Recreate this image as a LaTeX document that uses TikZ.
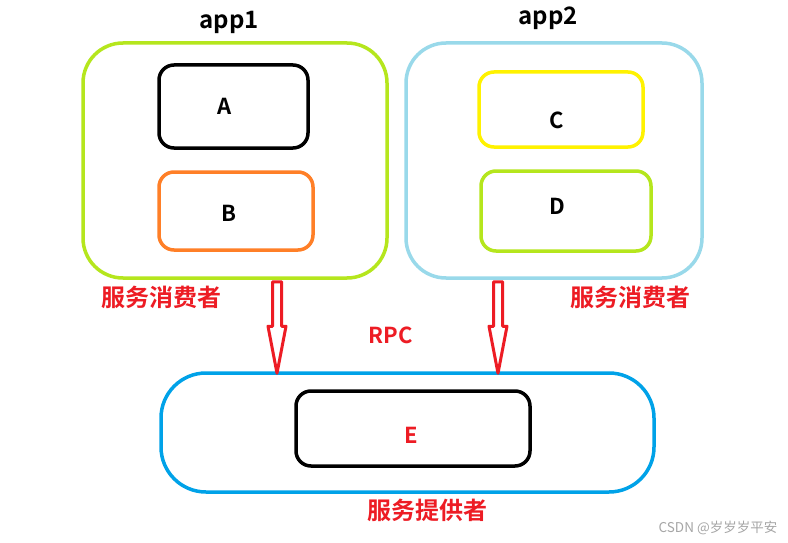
\documentclass[tikz,border=0pt]{standalone}
\usepackage{fontspec}
\setmainfont{Noto Sans CJK SC}[BoldFont={Noto Sans CJK SC Bold}]
\usetikzlibrary{calc}
\definecolor{lime}{HTML}{B5E61D}
\definecolor{lblue}{HTML}{99D9EA}
\definecolor{dblue}{HTML}{00A2E8}
\definecolor{orng}{HTML}{FF7F27}
\definecolor{yel}{HTML}{FFF200}
\definecolor{rd}{HTML}{ED1C24}
\tikzset{
  box/.style={draw, line width=3.5pt, rounded corners=#1, inner sep=0pt},
  lbl/.style={font=\bfseries\fontsize{22}{24}\selectfont, text=black},
  rlbl/.style={font=\bfseries\fontsize{24}{26}\selectfont, text=rd},
  harrow/.style={draw=rd, line width=3pt, fill=white, line join=round},
}
\begin{document}
\begin{tikzpicture}[x=1pt,y=-1pt]
\useasboundingbox[fill=white] (0,0) rectangle (788,543);
% outer boxes
\node[box=40pt, draw=lime, minimum width=304pt, minimum height=235pt] (app1) at (235,160.5) {};
\node[box=40pt, draw=lblue, minimum width=296pt, minimum height=235pt] (app2) at (554,160.5) {};
\node[box=45pt, draw=dblue, minimum width=493pt, minimum height=119pt] (prov) at (407.5,432.5) {};
% inner boxes
\node[box=15pt, draw=black, minimum width=149pt, minimum height=83pt] (A) at (233.5,106.5) {};
\node[box=15pt, draw=orng, minimum width=154pt, minimum height=78pt] (B) at (236,211) {};
\node[box=15pt, draw=yel, minimum width=164pt, minimum height=75pt] (C) at (561,109.5) {};
\node[box=15pt, draw=lime, minimum width=170pt, minimum height=80pt] (D) at (566,211) {};
\node[box=15pt, draw=black, minimum width=234pt, minimum height=75pt] (Ein) at (413,428.5) {};
\node[lbl] (Al) at (225,106) {A};
\node[lbl] (Bl) at (229,213) {B};
\node[lbl] (Cl) at (557,120) {C};
\node[lbl] (Dl) at (557,206) {D};
\node[rlbl, font=\bfseries\fontsize{22}{24}\selectfont] (E) at (411,435) {E};
% titles
\node[lbl, font=\bfseries\fontsize{24}{26}\selectfont] (t1) at (229,22) {app1};
\node[lbl, font=\bfseries\fontsize{24}{26}\selectfont] (t2) at (548,18) {app2};
\node[rlbl] (c1) at (161,297) {服务消费者};
\node[rlbl] (c2) at (630,297) {服务消费者};
\node[rlbl, font=\bfseries\fontsize{22}{24}\selectfont] (rpc) at (391,335) {RPC};
\node[rlbl] (p) at (427,510) {服务提供者};
\node[text=black!35, font=\fontsize{13.5}{15}\selectfont] (wm) at (718,528) {CSDN @岁岁岁平安};
% arrows
\coordinate (a1s) at (app1.south -| 277,0);
\coordinate (a1e) at (prov.north -| 277,0);
\coordinate (a2s) at (app2.south -| 498,0);
\coordinate (a2e) at (prov.north -| 498,0);
\foreach \s/\e in {a1s/a1e, a2s/a2e}{
  \draw[harrow] ($(\s)+(-4.5,2)$) -- ($(\e)+(-4.5,-45)$) -- ($(\e)+(-9,-45)$) -- ($(\e)+(0,2)$)
     -- ($(\e)+(9,-45)$) -- ($(\e)+(4.5,-45)$) -- ($(\s)+(4.5,2)$) -- cycle;
}
\end{tikzpicture}
\end{document}
